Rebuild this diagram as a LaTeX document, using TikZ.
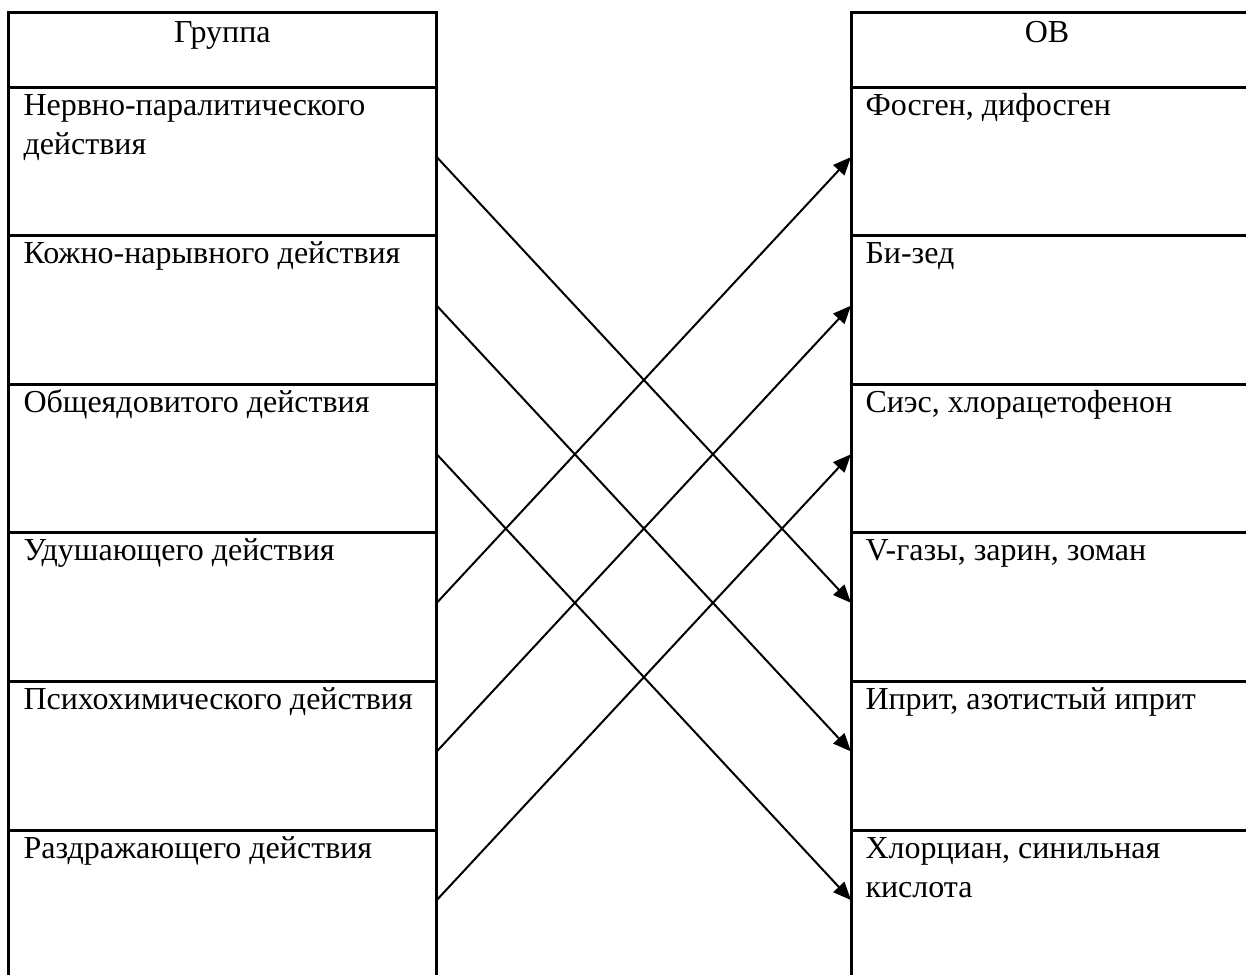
\documentclass[tikz,border=0pt]{standalone}
\usepackage{fontspec}
\setmainfont{Liberation Serif}
\usetikzlibrary{arrows.meta}

\begin{document}
\begin{tikzpicture}[x=0.4pt,y=-0.4pt,
  cell/.style={draw,line width=1.2pt,inner sep=0pt,outer sep=0pt,
    minimum width=#1,minimum height=59.44pt,anchor=north west},
  txt/.style={anchor=base west,inner sep=0pt,
    font=\fontsize{12.8}{15.8}\selectfont},
  link/.style={-{Triangle[length=7.2pt,width=6pt]},line width=0.8pt}]
\useasboundingbox (0,0) rectangle (1246,974);
% header cells
\node [cell=171.5pt,minimum height=30pt] (gh) at (8,12) {};
\node [cell=159.6pt,minimum height=30pt] (oh) at (851,12) {};
\node [txt,anchor=base] (tgh) at ([yshift=-12pt]gh.north) {Группа};
\node [txt,anchor=base] (toh) at ([xshift=-1.4pt,yshift=-12pt]oh.north) {ОВ};
% rows
\foreach \i/\g/\o [remember=\i as \j (initially h)] in
  {1/{Нервно-паралитического\\действия}/{Фосген, дифосген},
   2/{Кожно-нарывного действия}/{Би-зед},
   3/{Общеядовитого действия}/{Сиэс, хлорацетофенон},
   4/{Удушающего действия}/{V-газы, зарин, зоман},
   5/{Психохимического действия}/{Иприт, азотистый иприт},
   6/{Раздражающего действия}/{Хлорциан, синильная\\кислота}}
{
  \node [cell=171.5pt] (g\i) at (g\j.south west) {};
  \node [cell=159.6pt] (o\i) at (o\j.south west) {};
  \node [txt] (tg\i) at ([xshift=6pt,yshift=-11.2pt]g\i.north west)
    {\begin{tabular}[t]{@{}l@{}}\g\end{tabular}};
  \node [txt] (to\i) at ([xshift=5.6pt,yshift=-11.2pt]o\i.north west)
    {\begin{tabular}[t]{@{}l@{}}\o\end{tabular}};
}
% group -> agent
\foreach \a/\b in {1/4,2/5,3/6,4/1,5/2,6/3}
  \draw [link] ([yshift=1.7pt]g\a.east) -- ([yshift=1.7pt]o\b.west);
\end{tikzpicture}
\end{document}
